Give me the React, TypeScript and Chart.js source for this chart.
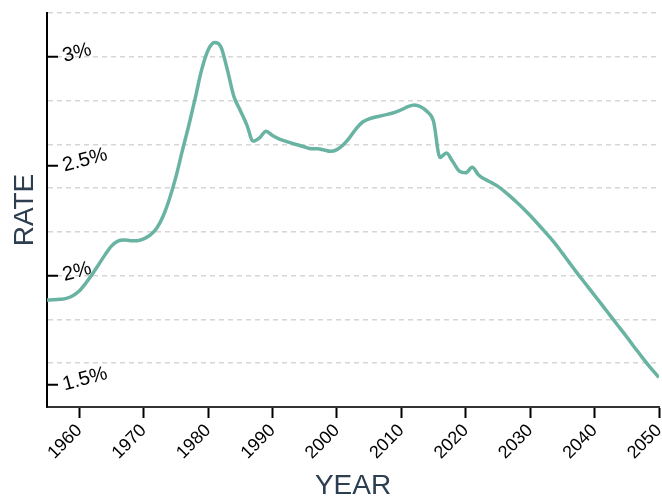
import { useEffect, useRef } from 'react';
import { Chart, registerables } from 'chart.js';

Chart.register(...registerables);

const years = [
  1955, 1956, 1957, 1958, 1959, 1960, 1961, 1962, 1963, 1964,
  1965, 1966, 1967, 1968, 1969, 1970, 1971, 1972, 1973, 1974,
  1975, 1976, 1977, 1978, 1979, 1980, 1981, 1982, 1983, 1984,
  1985, 1986, 1987, 1988, 1989, 1990, 1991, 1992, 1993, 1994,
  1995, 1996, 1997, 1998, 1999, 2000, 2001, 2002, 2003, 2004,
  2005, 2006, 2007, 2008, 2009, 2010, 2011, 2012, 2013, 2014,
  2015, 2016, 2017, 2018, 2019, 2020, 2021, 2022, 2023, 2024,
  2025, 2026, 2027, 2028, 2029, 2030, 2031, 2032, 2033, 2034,
  2035, 2036, 2037, 2038, 2039, 2040, 2041, 2042, 2043, 2044,
  2045, 2046, 2047, 2048, 2049, 2050,
];

const rates = [
  1.889, 1.890, 1.892, 1.896, 1.908, 1.930, 1.965, 2.005, 2.050, 2.095,
  2.135, 2.158, 2.163, 2.160, 2.160, 2.168, 2.185, 2.215, 2.270, 2.350,
  2.450, 2.570, 2.685, 2.810, 2.940, 3.030, 3.065, 3.045, 2.940, 2.820,
  2.755, 2.690, 2.615, 2.630, 2.660, 2.640, 2.625, 2.615, 2.605, 2.597,
  2.588, 2.580, 2.580, 2.574, 2.568, 2.576, 2.598, 2.632, 2.672, 2.702,
  2.716, 2.725, 2.731, 2.738, 2.746, 2.758, 2.772, 2.780, 2.772, 2.750,
  2.705, 2.540, 2.560, 2.520, 2.478, 2.470, 2.495, 2.460, 2.440, 2.425,
  2.408, 2.385, 2.360, 2.333, 2.305, 2.275, 2.243, 2.210, 2.177, 2.142,
  2.103, 2.063, 2.023, 1.985, 1.948, 1.910, 1.872, 1.834, 1.796, 1.758,
  1.720, 1.680, 1.642, 1.604, 1.568, 1.535,
];

const xTickYears = [1960, 1970, 1980, 1990, 2000, 2010, 2020, 2030, 2040, 2050];
const yTickValues = [1.5, 2, 2.5, 3];
const yGridValues = [1.4, 1.6, 1.8, 2.0, 2.2, 2.4, 2.6, 2.8, 3.0, 3.2];

const X_MIN = 1955;
const X_MAX = 2050;
const Y_MIN = 1.4;
const Y_MAX = 3.2;

const FONT = "'Liberation Sans', Arial, Helvetica, sans-serif";
const LINE_COLOR = '#69b3a2';
const TITLE_COLOR = '#2c3e50';

const near = (list: number[], v: number) => list.some((t) => Math.abs(t - v) < 1e-6);

export default function App() {
  const canvasRef = useRef<HTMLCanvasElement | null>(null);

  useEffect(() => {
    const canvas = canvasRef.current;
    if (!canvas) return;
    const chart = new Chart(canvas, {
      type: 'line',
      data: {
        datasets: [
          {
            label: 'Rate',
            data: years.map((y, i) => ({ x: y, y: rates[i] })),
            borderColor: LINE_COLOR,
            borderWidth: 3.5,
            pointRadius: 0,
            fill: false,
            cubicInterpolationMode: 'monotone',
          },
        ],
      },
      options: {
        animation: false,
        responsive: false,
        maintainAspectRatio: false,
        layout: { padding: { top: 13, right: 3, left: 0, bottom: 0 } },
        plugins: { legend: { display: false }, tooltip: { enabled: false } },
        scales: {
          x: {
            type: 'linear',
            min: X_MIN,
            max: X_MAX,
            afterBuildTicks: (scale: any) => {
              scale.ticks = xTickYears.map((v) => ({ value: v }));
            },
            afterFit: (scale: any) => {
              scale.height = 93;
              scale.paddingLeft = 0;
              scale.paddingRight = 0;
            },
            ticks: {
              autoSkip: false,
              minRotation: 45,
              maxRotation: 45,
              padding: 2,
              color: '#000',
              font: { family: FONT, size: 18 },
              callback: (v: any) => String(v),
            },
            grid: {
              drawOnChartArea: false,
              drawTicks: true,
              tickLength: 11,
              tickWidth: 2,
              tickColor: '#000',
              color: '#000',
            },
            border: { display: true, color: '#333', width: 2 },
            title: {
              display: true,
              text: 'YEAR',
              color: TITLE_COLOR,
              font: { family: FONT, size: 28 },
              padding: { top: 0, bottom: -3 },
            },
          },
          y: {
            type: 'linear',
            min: Y_MIN,
            max: Y_MAX,
            afterBuildTicks: (scale: any) => {
              const vals = [...yGridValues, ...yTickValues].sort((a, b) => a - b);
              const uniq: number[] = [];
              vals.forEach((v) => {
                if (!near(uniq, v)) uniq.push(v);
              });
              scale.ticks = uniq.map((v) => ({ value: v }));
            },
            afterFit: (scale: any) => {
              scale.width = 47;
              scale.paddingTop = 0;
              scale.paddingBottom = 0;
            },
            ticks: {
              autoSkip: false,
              mirror: true,
              padding: 16,
              minRotation: 15,
              maxRotation: 15,
              color: '#000',
              font: { family: FONT, size: 20 },
              callback: (v: any) => (near(yTickValues, Number(v)) ? `${Math.round(Number(v) * 10) / 10}%` : ''),
            },
            grid: {
              drawOnChartArea: true,
              drawTicks: true,
              tickLength: -11,
              tickWidth: 2,
              lineWidth: 1.5,
              color: (ctx: any) =>
                ctx.tick && near(yGridValues, ctx.tick.value) ? '#d6d6d6' : 'rgba(0,0,0,0)',
              tickColor: (ctx: any) =>
                ctx.tick && near(yTickValues, ctx.tick.value) ? '#000' : 'rgba(0,0,0,0)',
            },
            border: { display: true, color: '#000', width: 2, dash: [5, 4] },
            title: {
              display: true,
              text: 'RATE',
              color: TITLE_COLOR,
              font: { family: FONT, size: 28 },
              padding: { top: 8, bottom: 0 },
            },
          },
        },
      } as any,
    });
    return () => chart.destroy();
  }, []);

  return (
    <div style={{ position: 'absolute', left: 0, top: 0, width: 662, height: 500 }}>
      <canvas ref={canvasRef} width={662} height={500} style={{ width: 662, height: 500 }} />
    </div>
  );
}
